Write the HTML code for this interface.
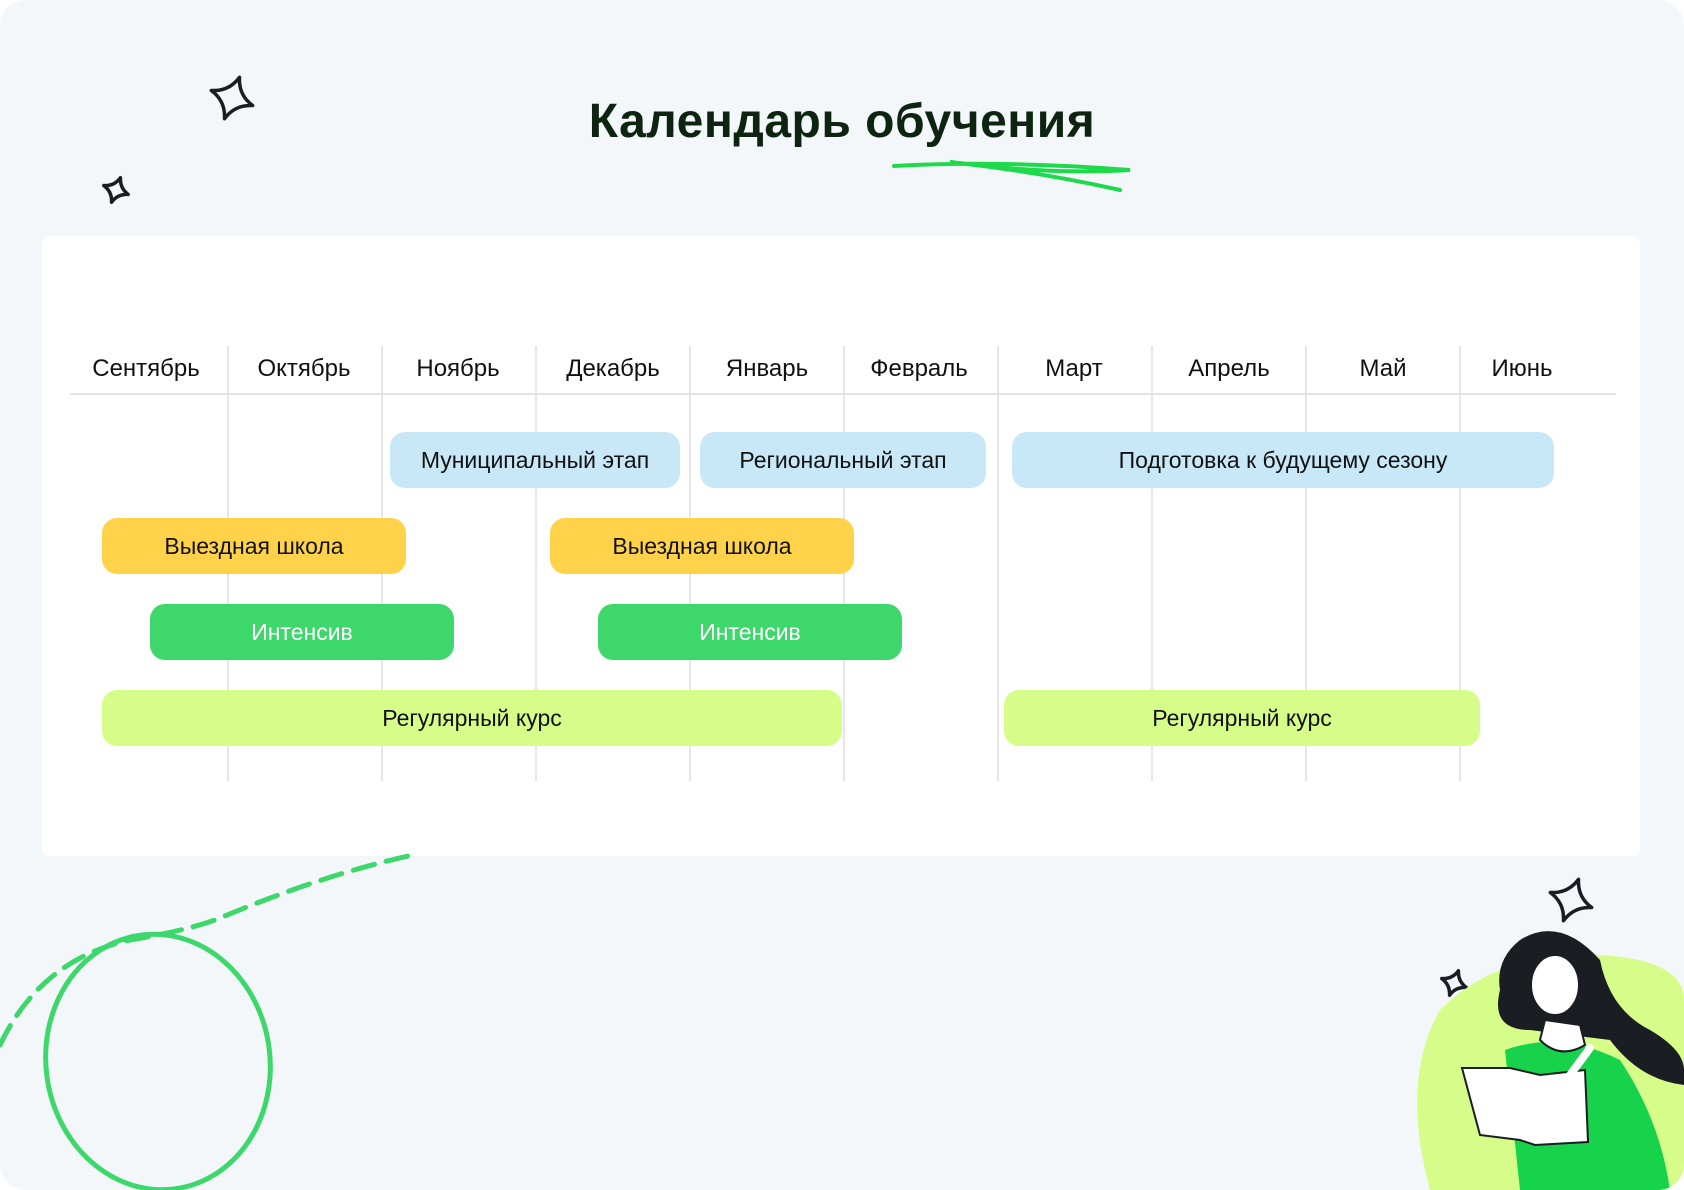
<!DOCTYPE html>
<html><head><meta charset="utf-8"><style>
*{margin:0;padding:0;box-sizing:border-box}
body{width:1684px;height:1190px;background:#fff;overflow:hidden;font-family:"Liberation Sans",sans-serif;position:relative}
.bg{position:absolute;left:0;top:0;width:1684px;height:1190px;background:#f3f7fa;border-radius:26px;overflow:hidden}
.card{position:absolute;left:42px;top:236px;width:1598px;height:620px;background:#fff;border-radius:8px}
.title{position:absolute;left:0;width:1684px;top:94px;text-align:center;font-size:48px;font-weight:bold;color:#0d2410;letter-spacing:0.5px}
.vl{position:absolute;top:346px;width:2px;height:435px;background:#e6e6e6}
.hl{position:absolute;left:70px;top:393px;width:1546px;height:2px;background:#e3e3e3}
.m{position:absolute;top:355px;width:150px;margin-left:-75px;text-align:center;font-size:24px;color:#111}
.b{position:absolute;height:56px;border-radius:15px;font-size:23px;color:#111;display:flex;align-items:center;justify-content:center}
.bl{background:#c8e8f8}.y{background:#ffd24a}.g{background:#3dd76b;color:#fff}.l{background:#d6fd8a}
svg{position:absolute;left:0;top:0}
</style></head><body><div class="bg">
<div class="title">Календарь обучения</div>
<div class="card"></div>
<div class="vl" style="left:227px"></div><div class="vl" style="left:381px"></div><div class="vl" style="left:535px"></div><div class="vl" style="left:689px"></div><div class="vl" style="left:843px"></div><div class="vl" style="left:997px"></div><div class="vl" style="left:1151px"></div><div class="vl" style="left:1305px"></div><div class="vl" style="left:1459px"></div>
<div class="hl"></div>
<div class="m" style="left:146px">Сентябрь</div><div class="m" style="left:304px">Октябрь</div><div class="m" style="left:458px">Ноябрь</div><div class="m" style="left:613px">Декабрь</div><div class="m" style="left:767px">Январь</div><div class="m" style="left:919px">Февраль</div><div class="m" style="left:1074px">Март</div><div class="m" style="left:1229px">Апрель</div><div class="m" style="left:1383px">Май</div><div class="m" style="left:1522px">Июнь</div>
<div class="b bl" style="left:390px;top:432px;width:290px">Муниципальный этап</div>
<div class="b bl" style="left:700px;top:432px;width:286px">Региональный этап</div>
<div class="b bl" style="left:1012px;top:432px;width:542px">Подготовка к будущему сезону</div>
<div class="b y" style="left:102px;top:518px;width:304px">Выездная школа</div>
<div class="b y" style="left:550px;top:518px;width:304px">Выездная школа</div>
<div class="b g" style="left:150px;top:604px;width:304px">Интенсив</div>
<div class="b g" style="left:598px;top:604px;width:304px">Интенсив</div>
<div class="b l" style="left:102px;top:690px;width:740px">Регулярный курс</div>
<div class="b l" style="left:1004px;top:690px;width:476px">Регулярный курс</div>
<svg width="1684" height="1190" viewBox="0 0 1684 1190">
<path d="M894 166 Q1000 160 1130 170 Q1050 175 950 162 Q1040 172 1120 190" fill="none" stroke="#1ed94c" stroke-width="4" stroke-linecap="round"/>
<g fill="none" stroke="#1a1d22" stroke-width="3.5" stroke-linejoin="round">
<path d="M0 -22 Q5 -5 22 0 Q5 5 0 22 Q-5 5 -22 0 Q-5 -5 0 -22 Z" transform="translate(232 98) rotate(20)"/>
<path d="M0 -13 Q3 -3 13 0 Q3 3 0 13 Q-3 3 -13 0 Q-3 -3 0 -13 Z" transform="translate(116 190) rotate(20)"/>
<path d="M0 -22 Q5 -5 22 0 Q5 5 0 22 Q-5 5 -22 0 Q-5 -5 0 -22 Z" transform="translate(1571 900) rotate(20)"/>
<path d="M0 -13 Q3 -3 13 0 Q3 3 0 13 Q-3 3 -13 0 Q-3 -3 0 -13 Z" transform="translate(1454 983) rotate(20)"/>
</g>
<ellipse cx="158" cy="1062" rx="112" ry="128" fill="none" stroke="#3dd76b" stroke-width="5" transform="rotate(-8 158 1062)"/>
<path d="M0 1045 Q40 960 130 940 Q190 930 220 918 Q320 876 408 856" fill="none" stroke="#3dd76b" stroke-width="5" stroke-dasharray="22 12" stroke-linecap="round"/>
<path d="M1430 1190 Q1400 1080 1440 1010 Q1500 950 1600 955 Q1684 960 1684 1000 L1684 1190 Z" fill="#d6fd8a"/>
<path d="M1520 940 Q1560 915 1600 960 Q1610 1010 1650 1030 Q1684 1050 1684 1070 L1684 1085 Q1640 1080 1610 1040 L1530 1030 Q1490 1030 1500 990 Q1495 960 1520 940 Z" fill="#1a1d22"/>
<path d="M1505 1050 Q1560 1030 1620 1060 Q1660 1120 1670 1190 L1520 1190 Z" fill="#17d34c"/>
<path d="M1540 1040 Q1560 1060 1585 1045 L1580 1025 L1545 1020 Z" fill="#fff" stroke="#1a1d22" stroke-width="2"/>
<ellipse cx="1555" cy="985" rx="24" ry="30" fill="#fff" stroke="#1a1d22" stroke-width="2"/>
<path d="M1520 980 Q1540 945 1585 960 Q1580 945 1560 940 Q1530 940 1520 980 Z" fill="#1a1d22"/>
<path d="M1462 1068 L1510 1068 L1540 1075 L1585 1070 L1588 1142 L1535 1145 L1520 1140 L1480 1135 Z" fill="#fff" stroke="#1a1d22" stroke-width="2"/>
<path d="M1570 1075 L1590 1048" stroke="#fff" stroke-width="8" stroke-linecap="round"/>
</svg>
</div></body></html>
